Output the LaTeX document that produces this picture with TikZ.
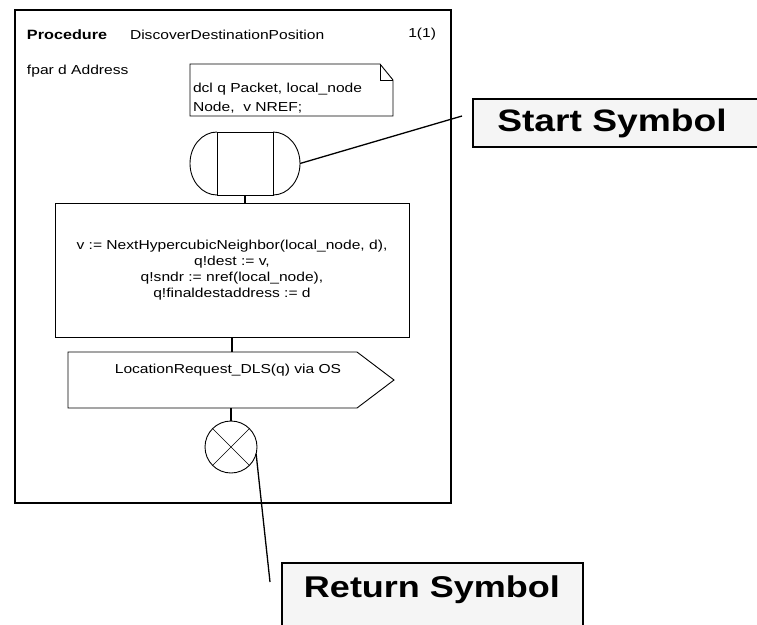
\documentclass[tikz,border=0pt]{standalone}
\usepackage{fontspec}
\setmainfont{Liberation Sans}[FakeStretch=1.2]
\usetikzlibrary{calc}

\begin{document}
\begin{tikzpicture}[x=1pt,y=-1pt,
  every node/.style={inner sep=0pt, outer sep=0pt},
  sym/.style={draw=black, line width=0.9pt},
  body/.style={font=\fontsize{13}{16}\selectfont},
  wire/.style={draw=black, line width=1.3pt},
  callout/.style={draw=black, line width=1.8pt, fill=gray!8},
  calltext/.style={font=\fontsize{31}{34}\selectfont\bfseries},
]
\useasboundingbox (0,0) rectangle (757,624);

% procedure frame and heading
\node[draw=black, line width=1.3pt, minimum width=436, minimum height=493,
      anchor=north west] (frame) at (15,10) {};
\node[anchor=west, font=\fontsize{13.5}{15}\selectfont\bfseries] (kw) at (27,35) {Procedure};
\node[body, anchor=west] (pname) at (130,35) {DiscoverDestinationPosition};
\node[body, anchor=east] (page) at (436,34) {1(1)};
\node[body, anchor=west] (fpar) at (27,71) {fpar d Address};

% declaration text symbol with folded corner
\node[anchor=north west, minimum width=203, minimum height=52] (decl) at (190,64) {};
\draw[sym] (decl.north west) -- ($(decl.north east)+(-13,0)$) -- ($(decl.north east)+(0,16)$)
  -- (decl.south east) -- (decl.south west) -- cycle;
\draw[sym] ($(decl.north east)+(-13,0)$) -- ($(decl.north east)+(-13,16)$) -- ($(decl.north east)+(0,16)$);
\node[body, anchor=west] (decl1) at (193,89) {dcl q Packet, local\_node};
\node[body, anchor=west] (decl2) at (193,108) {Node,\ \ v NREF;};

% start symbol
\node[sym, minimum width=56, minimum height=63] (start) at (245,163.5) {};
\draw[sym] (start.north west) .. controls +(-14.9,0) and +(0,-17.4) .. ($(start.west)+(-27,0)$)
  .. controls +(0,17.4) and +(-14.9,0) .. (start.south west);
\draw[sym] (start.north east) .. controls +(14.9,0) and +(0,-17.4) .. ($(start.east)+(27,0)$)
  .. controls +(0,17.4) and +(14.9,0) .. (start.south east);
\coordinate (startR) at ($(start.east)+(27,0)$);

% task
\node[sym, body, align=center, minimum width=354, minimum height=134] (task) at (232,270)
  {v := NextHypercubicNeighbor(local\_node, d),\\
   q!dest := v,\\
   q!sndr := nref(local\_node),\\
   q!finaldestaddress := d};

% output signal
\node[minimum width=326, minimum height=56, anchor=north west] (out) at (68,352) {};
\draw[sym] (out.north west) -- ($(out.north east)+(-37,0)$) -- (out.east)
  -- ($(out.south east)+(-37,0)$) -- (out.south west) -- cycle;
\node[body] (outtext) at ($(out.center)+(-3,-10)$) {LocationRequest\_DLS(q) via OS};

% return symbol
\node[sym, circle, minimum size=52] (ret) at (231,447) {};
\draw[sym, line width=0.6pt] (ret.north west) -- (ret.south east)
  (ret.north east) -- (ret.south west);

% flow lines
\draw[wire] (start.south) -- (start.south |- task.north);
\draw[wire] (task.south) -- (task.south |- out.north);
\draw[wire] (out.south) -- (out.south |- ret.north);

% callouts
\node[callout, anchor=north west, minimum width=292, minimum height=48] (startbox) at (473,99) {};
\node[calltext] (startlbl) at (612,123) {Start Symbol};
\coordinate (startTip) at (462,116);
\draw[wire] (startR) -- (startTip);

\node[callout, anchor=north west, minimum width=301, minimum height=70] (retbox) at (282,563) {};
\node[calltext, font=\fontsize{30}{32}\selectfont\bfseries] (retlbl) at (432,590) {Return Symbol};
\coordinate (retTip) at (270,582);
\draw[wire] (ret.-15) -- (retTip);
\end{tikzpicture}
\end{document}
